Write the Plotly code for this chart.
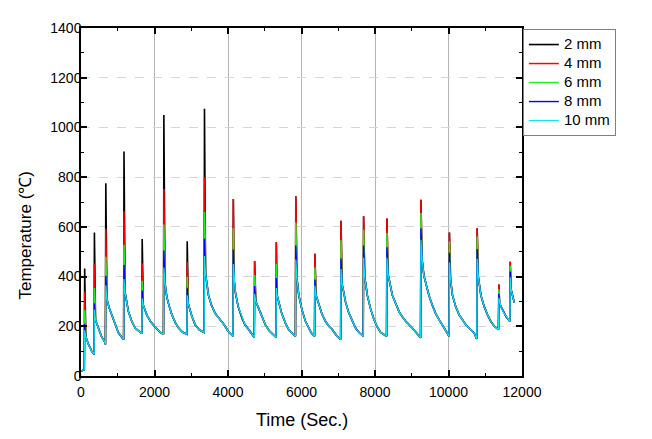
import plotly.graph_objects as go

# ---- data ----
series_names = ["2 mm", "4 mm", "6 mm", "8 mm", "10 mm"]
series_colors = ["#000000", "#ff0000", "#22ee22", "#0000ff", "#11e6e6"]

# shared cooling curve (lows and decay points between heat pulses)
base_t = [0, 55, 90,
          130, 200, 290, 355,
          395, 472, 555, 655, 665,
          705, 765, 835, 925, 1017, 1115, 1160,
          1200, 1290, 1380, 1472, 1580, 1655,
          1695, 1790, 1895, 2000, 2155, 2245,
          2285, 2335, 2395, 2475, 2565, 2655, 2765, 2880,
          2920, 3017, 3110, 3210, 3300, 3350,
          3390, 3468, 3550, 3650, 3750, 3832, 3910, 4000, 4090, 4135,
          4165, 4199, 4275, 4381, 4465, 4563, 4655, 4715,
          4755, 4835, 4915, 5017, 5115, 5199, 5305,
          5335, 5381, 5465, 5563, 5655, 5745, 5835,
          5875, 5926, 6015, 6108, 6205, 6275, 6355,
          6395, 6472, 6555, 6654, 6745, 6836, 6955, 7065,
          7105, 7199, 7285, 7381, 7475, 7565, 7680,
          7720, 7790, 7880, 7972, 8060, 8154, 8315,
          8355, 8472, 8565, 8654, 8745, 8836, 9015, 9145, 9240,
          9280, 9331, 9400, 9467, 9560, 9649, 9740, 9831, 9940, 10015,
          10055, 10107, 10195, 10290, 10375, 10472, 10615, 10700, 10760, 10770,
          10810, 10881, 10970, 11063, 11150, 11245, 11360,
          11390, 11427, 11500, 11563, 11630, 11670,
          11700, 11740, 11790]
base_T = [20, 25, 25,
          158, 129, 100, 88,
          225, 193, 160, 134, 127,
          310, 275, 246, 205, 174, 155, 147,
          335, 259, 220, 193, 178, 171,
          285, 246, 218, 200, 176, 168,
          375, 318, 283, 246, 215, 193, 176, 168,
          290, 240, 205, 187, 178, 175,
          410, 325, 285, 252, 232, 220, 203, 180, 164, 160,
          390, 338, 280, 233, 205, 187, 166, 155,
          300, 272, 240, 206, 183, 170, 156,
          325, 298, 250, 213, 186, 172, 160,
          395, 325, 265, 220, 188, 172, 160,
          325, 285, 250, 220, 200, 187, 162, 147,
          370, 298, 255, 220, 192, 175, 160,
          400, 325, 270, 227, 198, 175, 160,
          410, 325, 288, 259, 238, 220, 193, 170, 154,
          470, 404, 362, 325, 285, 252, 228, 206, 176, 160,
          390, 325, 280, 246, 225, 206, 185, 172, 152, 150,
          400, 325, 280, 246, 220, 200, 187,
          295, 279, 255, 240, 227, 220,
          350, 325, 296]

# peak times of each heat pulse (s)
peak_t = [100, 365, 675, 1170, 1665, 2255, 2890, 3360, 4145, 4725, 5315,
          5845, 6365, 7075, 7690, 8325, 9250, 10025, 10780, 11370, 11680]
peak_2mm = [432, 577, 775, 903, 551, 1050, 542, 1075, 712, 463, 538,
            723, 492, 625, 643, 634, 709, 577, 594, 368, 460]
peak_4mm = [340, 450, 592, 663, 454, 752, 458, 800, 712, 463, 538,
            723, 492, 625, 643, 634, 709, 577, 594, 368, 460]
peak_6mm = [265, 354, 480, 528, 383, 609, 399, 660, 594, 406, 452,
            618, 436, 546, 588, 575, 656, 542, 561, 349, 443]
peak_8mm = [210, 292, 403, 447, 343, 505, 355, 552, 509, 362, 394,
            525, 388, 473, 525, 518, 594, 496, 511, 331, 420]
peak_10mm = [185, 267, 365, 390, 312, 436, 325, 483, 450, 331, 354,
             469, 364, 430, 476, 476, 548, 456, 472, 314, 397]

x_ticks = [0, 2000, 4000, 6000, 8000, 10000, 12000]
x_ticktext = ["0", "2000", "4000", "6000", "8000", "10000", "12000"]
y_ticks = [0, 200, 400, 600, 800, 1000, 1200, 1400]

peaks = [peak_2mm, peak_4mm, peak_6mm, peak_8mm, peak_10mm]
widths = [1.6, 1.5, 1.5, 1.4, 1.2]

fig = go.Figure()
for name, color, pk, w in zip(series_names, series_colors, peaks, widths):
    pts = sorted(list(zip(base_t, base_T)) + list(zip(peak_t, pk)))
    fig.add_trace(go.Scatter(
        x=[p[0] for p in pts], y=[p[1] for p in pts],
        mode="lines",
        name="<span style='font-size:15px'>" + name + "</span>",
        line=dict(color=color, width=w),
    ))

font_family = "Liberation Sans, Arial, sans-serif"

# the page body adds an 8px margin, so the figure is sized to fit inside it
fig.update_layout(
    width=644, height=431,
    margin=dict(l=73, r=130, t=13, b=63),
    paper_bgcolor="white", plot_bgcolor="white",
    font=dict(family=font_family, size=14, color="black"),
    showlegend=True,
    legend=dict(
        x=1.002, y=0.997, xanchor="left", yanchor="top",
        bgcolor="white", bordercolor="#808080", borderwidth=1,
        font=dict(size=11, family=font_family, color="black"),
        itemwidth=30,
    ),
    xaxis=dict(
        range=[0, 12000], tickvals=x_ticks, ticktext=x_ticktext,
        ticks="inside", ticklen=6, tickwidth=1.5, tickcolor="black",
        showline=True, linecolor="black", linewidth=1.5, mirror="ticks",
        showgrid=True, gridcolor="#b4b4b4", gridwidth=1.2,
        zeroline=False,
        minor=dict(ticks="inside", ticklen=3, tickwidth=1.2, dtick=1000,
                   tickcolor="black", showgrid=False),
        tickfont=dict(size=14),
        ticklabelstandoff=2,
    ),
    yaxis=dict(
        range=[0, 1400], tickvals=y_ticks,
        ticks="inside", ticklen=6, tickwidth=1.5, tickcolor="black",
        showline=True, linecolor="black", linewidth=1.5, mirror="ticks",
        showgrid=True, gridcolor="#d6d6d6", gridwidth=1, griddash="dash",
        zeroline=False,
        minor=dict(ticks="inside", ticklen=3, tickwidth=1.2, dtick=100,
                   tickcolor="black", showgrid=False),
        tickfont=dict(size=14),
        ticklabelstandoff=-5,
    ),
    annotations=[
        dict(text="Temperature (℃)", textangle=-90, xref="paper", yref="paper",
             x=-0.126, y=0.405, xanchor="center", yanchor="middle",
             showarrow=False, font=dict(size=17)),
        dict(text="Time (Sec.)", xref="paper", yref="paper",
             x=0.5, y=-0.125, xanchor="center", yanchor="middle",
             showarrow=False, font=dict(size=18)),
    ],
)

fig.write_html("out.html")
